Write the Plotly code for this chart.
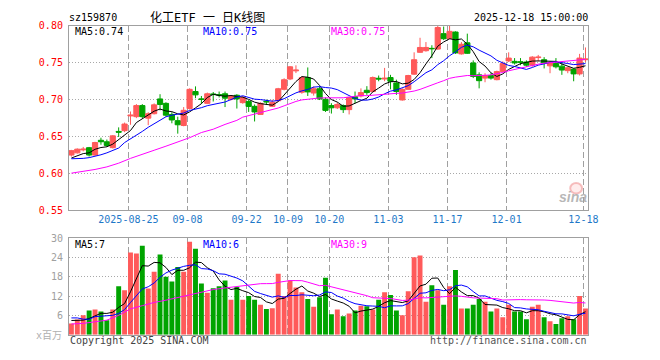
import plotly.graph_objects as go
import pandas as pd

# ---------------- data ----------------
tick_idx = [10, 20, 30, 37, 44, 54, 64, 74, 87]
tick_labels = ["2025-08-25", "09-08", "09-22", "10-09", "10-20", "11-03", "11-17", "12-01", "12-18"]

opens = [.625, .628, .632, .635, .625, .645, .643, .635, .657, .658,
         .678, .677, .692, .675, .681, .701, .695, .680, .6716, .665,
         .688, .711, .701, .695, .7078, .7068, .708, .7005, .706, .696,
         .6974, .691, .680, .6978, .691, .6985, .714, .728, .739, .710,
         .730, .709, .7148, .7005, .692, .689, .692, .6865, .704, .705,
         .7127, .711, .729, .728, .730, .7227, .6996, .714, .7345, .7641,
         .7663, .7695, .7685, .7894, .783, .7916, .762, .777, .7497, .7336,
         .7292, .7327, .7271, .738, .7524, .7519, .7512, .751, .7467, .757,
         .7541, .7458, .7489, .7454, .7393, .7414, .7349, .7541]
highs = [.632, .634, .636, .636, .643, .6485, .646, .652, .6625, .669,
         .684, .694, .694, .683, .695, .7074, .6965, .683, .677, .690,
         .7153, .718, .705, .7096, .7104, .711, .711, .706, .7074, .705,
         .6996, .6935, .6965, .700, .700, .716, .729, .7455, .7465, .7315,
         .7436, .718, .718, .703, .6952, .6965, .6935, .7035, .711, .7153,
         .7183, .7314, .7327, .743, .7336, .7271, .7153, .7336, .7641, .7838,
         .778, .7737, .800, .799, .800, .7925, .778, .7894, .7532, .737,
         .7358, .7358, .7393, .7519, .7641, .7563, .7563, .7532, .7589, .7606,
         .7576, .7519, .7563, .751, .7445, .7423, .762, .7707]
lows = [.623, .627, .630, .623, .624, .639, .636, .634, .6494, .656,
        .666, .675, .675, .6655, .680, .6856, .677, .668, .654, .664,
        .6865, .702, .6945, .694, .6975, .703, .690, .699, .688, .6945,
        .6834, .6705, .6795, .693, .690, .6973, .7125, .7265, .736, .708,
        .705, .7055, .6995, .6834, .6812, .6873, .682, .680, .6952, .703,
        .7065, .7096, .7249, .725, .714, .7065, .6987, .7136, .7336, .7636,
        .765, .7563, .7676, .7807, .7816, .762, .761, .762, .7292, .7153,
        .7236, .7271, .7262, .738, .751, .7476, .7467, .7445, .7445, .7519,
        .7423, .7358, .7423, .7336, .7358, .7249, .7327, .751]
closes = [.631, .633, .633, .625, .642, .643, .638, .651, .656, .667,
          .679, .692, .677, .681, .693, .6935, .679, .6725, .666, .6856,
          .714, .7065, .7005, .708, .707, .7062, .702, .705, .701, .703,
          .6908, .6834, .695, .697, .6965, .7148, .727, .7445, .740, .730,
          .7105, .7148, .701, .6855, .689, .6935, .6865, .703, .701, .7096,
          .7096, .730, .728, .729, .725, .711, .714, .7327, .7541, .7707,
          .7707, .769, .7977, .7825, .7925, .7633, .775, .7628, .7314, .7257,
          .7327, .7292, .738, .7489, .7563, .7497, .7508, .7467, .7576, .7576,
          .7497, .7497, .7445, .7401, .7432, .7349, .7563, .755]
volumes = [3.5, 4.7, 6.0, 7.5, 7.8, 7.2, 4.5, 7.8, 15.0, 13.8,
           25.5, 25.2, 27.6, 14.3, 19.5, 24.9, 18.0, 16.5, 21.0, 19.5,
           28.8, 26.7, 15.9, 13.0, 14.4, 15.0, 16.8, 10.8, 14.8, 10.8,
           12.0, 10.8, 9.3, 8.0, 8.2, 18.9, 12.0, 16.8, 14.6, 13.2,
           11.1, 8.7, 11.6, 17.7, 6.3, 7.8, 5.7, 6.6, 7.5, 9.0,
           8.8, 7.8, 10.8, 13.2, 12.3, 7.5, 6.0, 13.5, 24.0, 24.6,
           10.2, 15.3, 13.8, 9.3, 15.0, 20.1, 8.1, 8.1, 9.3, 11.1,
           10.2, 7.2, 8.1, 5.4, 9.3, 7.2, 7.2, 4.8, 8.7, 9.3,
           5.4, 4.2, 3.3, 5.1, 5.7, 4.8, 12.0, 8.1]

# moving-average values before enough history is visible
ma5_head = [.621, .6245, .627, .628]
ma10_head = [.620, .620, .6205, .6215, .623, .6254, .628, .631, .6345]
ma30_head_idx = [0, 2, 4, 6, 8, 10, 12, 14, 16, 18, 20, 22, 24, 26, 28]
ma30_head = [.6005, .6025, .6055, .609, .614, .6205, .6255, .6315, .637, .6425,
             .6485, .6555, .660, .6665, .672]
vma5_head = [4.4, 4.4, 4.5, 5.0]
vma10_head = [5.2, 5.2, 4.8, 4.8, 5.6, 5.7, 5.8, 6.0, 6.6]
vma30_head_idx = [0, 2, 4, 6, 8, 10, 12, 14, 16, 18, 20, 22, 24, 26, 28]
vma30_head = [3.3, 3.5, 4.0, 4.5, 6.0, 8.0, 9.0, 10.0, 10.7, 11.5, 12.5, 13.2, 14.0, 14.5, 15.0]

price_ticks = [0.55, 0.60, 0.65, 0.70, 0.75, 0.80]
vol_ticks = [6, 12, 18, 24, 30]

# ---------------- derived ----------------
n = len(closes)
idx = list(range(n))
cs = pd.Series(closes)
vs = pd.Series(volumes)


def rolling_with_head(s, w, head):
    r = s.rolling(w).mean().tolist()
    return head + r[len(head):]


ma5 = rolling_with_head(cs, 5, ma5_head)
ma10 = rolling_with_head(cs, 10, ma10_head)
ma30_x = ma30_head_idx + list(range(29, n))
ma30_y = ma30_head + cs.rolling(30).mean().tolist()[29:]
vma5 = rolling_with_head(vs, 5, vma5_head)
vma10 = rolling_with_head(vs, 10, vma10_head)
vma30_x = vma30_head_idx + list(range(29, n))
vma30_y = vma30_head + vs.rolling(30).mean().tolist()[29:]

RED = "#FF5A5A"
GREEN = "#00A400"
bar_colors = [RED if c >= o else GREEN for o, c in zip(opens, closes)]

# ---------------- layout geometry (pixels) ----------------
W, H = 660, 360
PL, PR = 70, 597
P_TOP, P_BOT = 20.5, 211.5
V_TOP, V_BOT = 240, 340
X0 = -2.5 / 6
X1 = (PR - 72.5) / 6
MONO = "DejaVu Sans Mono"


def fx(px):
    return px / W


def fy(py):
    return 1 - py / H


fig = go.Figure()

fig.add_trace(go.Candlestick(
    x=idx, open=opens, high=highs, low=lows, close=closes,
    increasing=dict(line=dict(color=RED, width=1), fillcolor=RED),
    decreasing=dict(line=dict(color=GREEN, width=1), fillcolor=GREEN),
    whiskerwidth=0, xaxis="x", yaxis="y", showlegend=False))
for xs, ys, col in [(idx, ma5, "#000000"), (idx, ma10, "#0000FF"), (ma30_x, ma30_y, "#FF00FF")]:
    fig.add_trace(go.Scatter(x=xs, y=ys, mode="lines", line=dict(color=col, width=1),
                             xaxis="x", yaxis="y", showlegend=False, hoverinfo="skip"))

fig.add_trace(go.Bar(x=idx, y=volumes, marker=dict(color=bar_colors, line=dict(width=0)),
                     xaxis="x2", yaxis="y2", showlegend=False))
for xs, ys, col in [(idx, vma5, "#000000"), (idx, vma10, "#0000FF"), (vma30_x, vma30_y, "#FF00FF")]:
    fig.add_trace(go.Scatter(x=xs, y=ys, mode="lines", line=dict(color=col, width=1),
                             xaxis="x2", yaxis="y2", showlegend=False, hoverinfo="skip"))

grid_x = [i - 0.35 for i in tick_idx]
common_x = dict(range=[X0, X1], domain=[fx(PL), fx(PR)], showgrid=True, gridcolor="#A0A0A0",
                griddash="6px,3px", gridwidth=1, zeroline=False, showline=True, mirror=True,
                linecolor="#A0A0A0", linewidth=1, tickmode="array", tickvals=grid_x, ticks="",
                fixedrange=True)

fig.update_layout(
    width=W, height=H, margin=dict(l=0, r=0, t=0, b=0),
    paper_bgcolor="white", plot_bgcolor="white",
    boxgap=0.12, boxgroupgap=0.0, bargap=1 / 6,
    xaxis=dict(**common_x, ticktext=tick_labels, anchor="y",
               tickfont=dict(family=MONO, size=10, color="#1E78C8"),
               rangeslider=dict(visible=False)),
    xaxis2=dict(**common_x, anchor="y2", showticklabels=False),
    yaxis=dict(range=[0.55, 0.80], domain=[fy(P_BOT), fy(P_TOP)], tickmode="array",
               tickvals=price_ticks, ticktext=[f"{v:.2f}" for v in price_ticks],
               tickfont=dict(family=MONO, size=10, color="#FF0000"), ticks="",
               showgrid=True, gridcolor="#A8A8A8", griddash="1px,2px", zeroline=False,
               showline=True, mirror=True, linecolor="#A0A0A0", ticklabelstandoff=3,
               anchor="x", fixedrange=True),
    yaxis2=dict(range=[0, 30], domain=[fy(V_BOT), fy(V_TOP)], tickmode="array",
                tickvals=vol_ticks, ticktext=[str(v) for v in vol_ticks],
                tickfont=dict(family=MONO, size=10, color="#A0A0A0"), ticks="",
                showgrid=True, gridcolor="#A8A8A8", griddash="1px,2px", zeroline=False,
                showline=True, mirror=True, linecolor="#A0A0A0", ticklabelstandoff=3,
                anchor="x2", fixedrange=True),
)


def ann(text, x, y, color="#000000", size=10, xanchor="left", family=MONO, **kw):
    fig.add_annotation(text=text, x=fx(x), y=fy(y), xref="paper", yref="paper",
                       xanchor=xanchor, yanchor="middle", showarrow=False,
                       font=dict(family=family, size=size, color=color), **kw)


ann("sz159870", 68, 12)
ann("化工ETF 一 日K线图", 211, 12, size=12, xanchor="center",
    family="DejaVu Sans Mono, Noto Sans CJK SC")
ann("2025-12-18 15:00:00", 599, 12, xanchor="right")
ann("MA5:0.74", 74, 26)
ann("MA10:0.75", 204, 26, color="#0000FF")
ann("MA30:0.75", 334, 26, color="#FF00FF")
ann("MA5:7", 74, 246.5)
ann("MA10:6", 204, 246.5, color="#0000FF")
ann("MA30:9", 334, 246.5, color="#FF00FF")
ann("x百万", 65, 341, color="#B0B0B0", xanchor="right", family="DejaVu Sans Mono, Noto Sans CJK SC")
ann("Copyright 2025 SINA.COM", 69, 346, color="#444444")
ann("http://finance.sina.com.cn", 598, 346, color="#555555", xanchor="right")

# faint sina watermark
fig.add_shape(type="circle", xref="paper", yref="paper",
              x0=fx(579), x1=fx(591), y0=fy(194), y1=fy(183),
              line=dict(color="rgba(240,150,150,0.6)", width=2), fillcolor="rgba(255,220,220,0.5)")
ann("<i><b>sina</b></i>", 582, 198, color="rgba(160,160,160,0.75)", size=14, xanchor="center",
    family="Liberation Sans")

fig.write_html("out.html", config={"displayModeBar": False},
               post_script="document.body.style.margin='0';document.body.style.overflow='hidden';")
